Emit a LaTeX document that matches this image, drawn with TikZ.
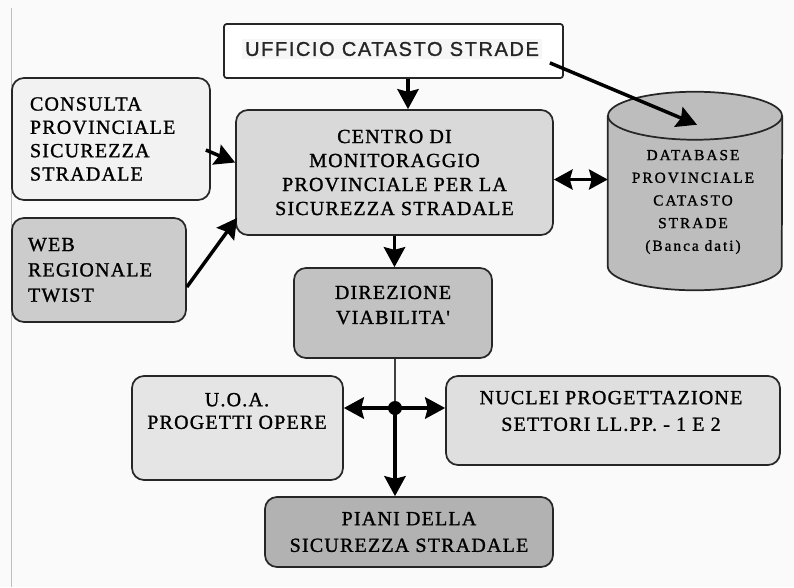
\documentclass[tikz,border=0pt]{standalone}
\usepackage{fontspec}
\usetikzlibrary{arrows.meta,calc}
\newfontfamily\boxfont[LetterSpace=6,FakeBold=1.2]{Liberation Serif}
\newfontfamily\dbfont[LetterSpace=13,FakeBold=1.2]{Liberation Serif}
\newfontfamily\ufffont[LetterSpace=8,FakeBold=1.2]{Liberation Sans}
\definecolor{consfill}{gray}{0.95}
\definecolor{centrofill}{gray}{0.85}
\definecolor{webfill}{gray}{0.80}
\definecolor{dbfill}{gray}{0.74}
\definecolor{dirfill}{gray}{0.76}
\definecolor{uoafill}{gray}{0.90}
\definecolor{nucfill}{gray}{0.875}
\definecolor{pianifill}{gray}{0.70}
\begin{document}
\begin{tikzpicture}[x=0.75pt,y=-0.75pt,
    box/.style={draw=black!85, line width=1.3pt, rounded corners=9pt, inner sep=0pt, align=center,
        font=\boxfont\fontsize{15}{18}\selectfont},
    lbox/.style={box, align=left},
    txt/.style={inner sep=0pt, align=center, font=\boxfont\fontsize{15}{18}\selectfont},
    arr/.style={line width=2.6pt, -{Stealth[length=15pt,width=16pt,inset=2pt]}},
    dblarr/.style={line width=2.6pt, {Stealth[length=14pt,width=15pt,inset=2pt]}-{Stealth[length=14pt,width=15pt,inset=2pt]}}]
    \useasboundingbox[fill=white!98!black] (0,0) rectangle (794,587);
    \draw[gray!50, line width=0.6pt] (11.5,8) -- (11.5,587);

    % boxes
    \node[box, fill=white, rounded corners=2pt, minimum width=254.25pt, minimum height=40.5pt] (ufficio) at (393.5,51) {};
    \node[inner sep=2pt, fill=gray!7, text=black!85, font=\ufffont\fontsize{15}{18}\selectfont] (ufftxt) at (392,49) {UFFICIO CATASTO STRADE};
    \node[lbox, fill=consfill, minimum width=148.5pt, minimum height=91.5pt, inner xsep=13.5pt, text width=121.5pt,
        font=\boxfont\fontsize{15}{17.5}\selectfont] (consulta) at (111,139) {CONSULTA\\PROVINCIALE\\SICUREZZA\\STRADALE};
    \node[box, fill=centrofill, minimum width=237.75pt, minimum height=93.75pt] (centro) at (394.5,172.5)
        {CENTRO DI\\MONITORAGGIO\\PROVINCIALE PER LA\\SICUREZZA STRADALE};
    \node[lbox, fill=webfill, minimum width=130.5pt, minimum height=78pt, inner xsep=12pt, text width=106.5pt,
        font=\boxfont\fontsize{15}{19}\selectfont] (web) at (99,270) {WEB\\REGIONALE\\TWIST};
    \node[box, fill=dirfill, minimum width=148.5pt, minimum height=67.5pt] (dir) at (393,313) {};
    \node[txt, font=\boxfont\fontsize{15}{18.75}\selectfont] (dirtxt) at (393,305) {DIREZIONE\\VIABILITA'};
    \node[box, fill=uoafill, minimum width=158.25pt, minimum height=78pt] (uoa) at (237.5,428) {};
    \node[txt, font=\boxfont\fontsize{15}{17}\selectfont] (uoatxt) at (237,411) {U.O.A.\\PROGETTI OPERE};
    \node[box, fill=nucfill, minimum width=250.5pt, minimum height=66.75pt] (nuclei) at (613,420.5) {};
    \node[txt, font=\boxfont\fontsize{15}{20}\selectfont] (nuctxt) at (611,411) {NUCLEI PROGETTAZIONE\\SETTORI LL.PP. - 1 E 2};
    \node[box, fill=pianifill, minimum width=216pt, minimum height=52.5pt, font=\boxfont\fontsize{15}{20}\selectfont] (piani)
        at (409,532) {PIANI DELLA\\SICUREZZA STRADALE};

    % database cylinder
    \node[inner sep=0pt, minimum width=130.5pt, minimum height=112.5pt] (db) at (695,191) {};
    \filldraw[fill=dbfill, draw=black!85, line width=1.3pt] (db.north west) -- (db.south west)
        arc[start angle=180, end angle=0, x radius=87, y radius=24] -- (db.north east);
    \filldraw[fill=dbfill, draw=black!85, line width=1.3pt] (db.north) ellipse[x radius=87, y radius=24];
    \node[txt, font=\dbfont\fontsize{11.5}{17}\selectfont] (dbtxt) at (693,202)
        {DATABASE\\PROVINCIALE\\CATASTO\\STRADE\\(Banca dati)};

    % connectors
    \draw[arr] ($(ufficio.south)+(14.5,0)$) -- ($(centro.north)+(13.5,0)$);
    \draw[arr] ($(ufficio.south east)+(-14,-16)$) -- ($(db.north)+(2,9)$);
    \draw[arr] ($(consulta.east)+(-5,11)$) -- ($(centro.west)+(0,-10)$);
    \draw[arr] ($(web.east)+(0,17)$) -- ($(centro.south west)+(2,-18)$);
    \draw[dblarr] ($(centro.east)+(0,7)$) coordinate (cd) -- (cd -| db.west);
    \draw[arr] (centro.south) -- (centro.south |- dir.north);

    \coordinate (hub) at (395,408);
    \draw[black!75, line width=1.3pt] (hub |- dir.south) -- (hub);
    \draw[arr] (hub) -- (hub -| uoa.east);
    \draw[arr] (hub) -- (hub -| nuclei.west);
    \draw[arr] (hub) -- (hub |- piani.north);
    \fill (hub) circle[radius=7];
\end{tikzpicture}
\end{document}
